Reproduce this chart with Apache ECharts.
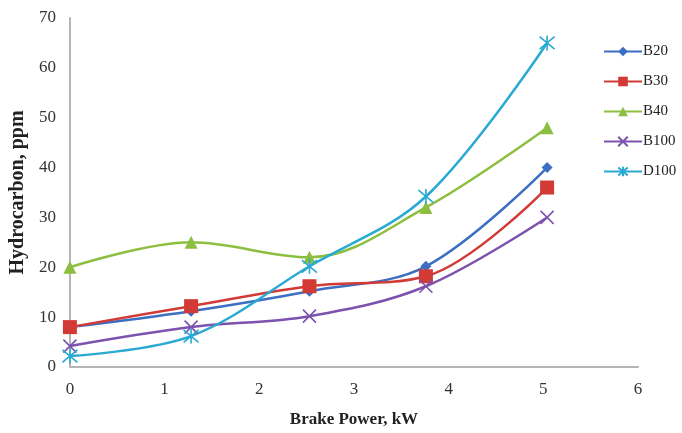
<!DOCTYPE html>
<html>
<head>
<meta charset="utf-8">
<script src="https://cdn.jsdelivr.net/npm/echarts@6/dist/echarts.min.js"></script>
<style>html,body{margin:0;padding:0;background:#fff}#c{width:682px;height:433px}</style>
</head>
<body>
<div id="c"></div>
<script>
var xValues = [0, 1.28, 2.53, 3.76, 5.04];
var seriesNames = ['B20', 'B30', 'B40', 'B100', 'D100'];
var b20 = [8, 11.2, 15.2, 20.2, 40];
var b30 = [8, 12.2, 16.2, 18.2, 36];
var b40 = [20, 25, 22, 32, 48];
var b100 = [4.2, 8, 10.2, 16.2, 30];
var d100 = [2.2, 6.2, 20.2, 34.2, 65];
var xTicks = [0, 1, 2, 3, 4, 5, 6];
var yTicks = [0, 10, 20, 30, 40, 50, 60, 70];

var colors = ['#3c6fc4', '#d23a36', '#8cbf3f', '#7c52ae', '#2aaad3'];
var symbols = [
  'diamond',
  'rect',
  'triangle',
  'path://M0,0L10,10M10,0L0,10',
  'path://M0,0L10,10M10,0L0,10M5,-1L5,11'
];
var sizes = [11, 14, 13, 13, 15];
var values = [b20, b30, b40, b100, d100];

function pairs(ys) { return xValues.map(function (x, i) { return [x, ys[i]]; }); }

var font = '"Liberation Serif", "DejaVu Serif", serif';
var series = seriesNames.map(function (n, i) {
  var isPath = symbols[i].indexOf('path://') === 0;
  return {
    name: n,
    type: 'line',
    smooth: 0.35,
    data: pairs(values[i]),
    symbol: symbols[i],
    symbolSize: sizes[i],
    lineStyle: { color: colors[i], width: 2.5 },
    itemStyle: isPath ? { color: colors[i], borderColor: colors[i], borderWidth: 1.6 } : { color: colors[i] },
    emphasis: { disabled: true }
  };
});

var chart = echarts.init(document.getElementById('c'));
chart.setOption({
  animation: false,
  backgroundColor: '#fff',
  color: colors,
  grid: { left: 67, right: 44, top: 18, bottom: 66 },
  legend: {
    orient: 'vertical',
    left: 598,
    top: 39,
    itemWidth: 38,
    itemHeight: 12,
    itemGap: 15,
    data: seriesNames,
    textStyle: { fontFamily: font, fontSize: 15, color: '#222', padding: [0, 0, 0, -4] }
  },
  xAxis: {
    type: 'value',
    min: xTicks[0],
    max: xTicks[xTicks.length - 1],
    interval: 1,
    name: 'Brake Power, kW',
    nameLocation: 'middle',
    nameGap: 44,
    nameTextStyle: { fontFamily: font, fontSize: 17, fontWeight: 'bold', color: '#222' },
    axisLine: { lineStyle: { color: '#b5b5b5', width: 2 } },
    axisTick: { show: false },
    splitLine: { show: false },
    axisLabel: { fontFamily: font, fontSize: 17, color: '#333', margin: 14 }
  },
  yAxis: {
    type: 'value',
    min: yTicks[0],
    max: yTicks[yTicks.length - 1],
    interval: 10,
    name: 'Hydrocarbon, ppm',
    nameLocation: 'middle',
    nameGap: 35,
    nameTextStyle: { fontFamily: font, fontSize: 20, fontWeight: 'bold', color: '#222' },
    axisLine: { show: true, lineStyle: { color: '#b5b5b5', width: 2 } },
    axisTick: { show: false },
    splitLine: { show: false },
    axisLabel: { fontFamily: font, fontSize: 17, color: '#333', margin: 14 }
  },
  series: series
});
</script>
</body>
</html>
